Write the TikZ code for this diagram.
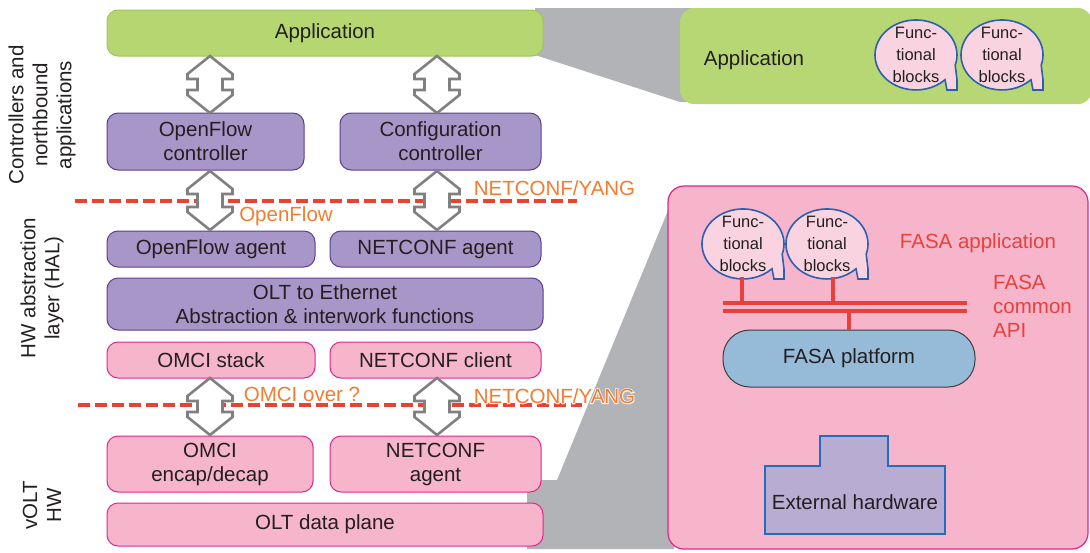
\documentclass[tikz,border=0pt]{standalone}
\usepackage{fontspec}
\setmainfont{Liberation Sans}
\newfontfamily\halofont[FakeBold=8]{Liberation Sans}
\usetikzlibrary{calc}

\definecolor{txt}{HTML}{231F20}
\definecolor{appgreen}{HTML}{B6D672}
\definecolor{appline}{HTML}{9DC85A}
\definecolor{rgreen}{HTML}{B7D775}
\definecolor{purpf}{HTML}{A797C8}
\definecolor{purpl}{HTML}{5C3D92}
\definecolor{pinkf}{HTML}{F6B5CB}
\definecolor{pinkl}{HTML}{E2258C}
\definecolor{grayf}{HTML}{B2B3B6}
\definecolor{arrgray}{HTML}{808080}
\definecolor{dashred}{HTML}{EC4130}
\definecolor{orangeT}{HTML}{F47B30}
\definecolor{fasared}{HTML}{E8413B}
\definecolor{bubf}{HTML}{F9D4E0}
\definecolor{bubl}{HTML}{2C5FAE}
\definecolor{platf}{HTML}{96BBD8}
\definecolor{platl}{HTML}{3D3D3D}
\definecolor{hwf}{HTML}{B8ACD2}
\definecolor{hwl}{HTML}{1F6FC0}

\newcommand\mainfs{\fontsize{20.5}{24}\selectfont}
\newcommand\bubfs{\fontsize{16.5}{22}\selectfont}

% hollow double-headed arrow between two points (top, bottom)
\newcommand\dblarrow[2]{%
  \draw[harrow] let \p1=(#1), \p2=(#2) in
    (\x1,\y1) -- (\x1+22.5pt,\y1-18pt) -- (\x1+22.5pt,\y1-23pt) -- (\x1+12.5pt,\y1-23pt)
    -- (\x1+12.5pt,\y2+23pt) -- (\x1+22.5pt,\y2+23pt) -- (\x1+22.5pt,\y2+18pt) -- (\x2,\y2)
    -- (\x1-22.5pt,\y2+18pt) -- (\x1-22.5pt,\y2+23pt) -- (\x1-12.5pt,\y2+23pt)
    -- (\x1-12.5pt,\y1-23pt) -- (\x1-22.5pt,\y1-23pt) -- (\x1-22.5pt,\y1-18pt) -- cycle;}

\tikzset{
  box/.style={rounded corners=11pt, inner sep=0pt, align=center, font=\mainfs,
    text=txt, line width=1pt},
  gbox/.style={box, fill=appgreen, draw=appline},
  pbox/.style={box, fill=purpf, draw=purpl},
  kbox/.style={box, fill=pinkf, draw=pinkl},
  harrow/.style={draw=arrgray, fill=white, line width=2.6pt, line join=miter},
  sep/.style={dashred, line width=3.2pt, dash pattern=on 12pt off 5pt},
  olabel/.style={text=orangeT, font=\mainfs, inner sep=0pt},
  side/.style={rotate=90, align=center, font=\mainfs, text=txt, inner sep=0pt},
  bubble/.style={fill=bubf, draw=bubl, line width=1.6pt, line join=miter},
  bubtext/.style={align=center, font=\bubfs, text=txt, inner sep=0pt},
  bus/.style={fasared, line width=4pt},
  fbub/.pic={
    \path[bubble] (39.2,10.2) arc[start angle=17, end angle=-315, x radius=41, y radius=35]
      -- (31,35) -- (41,35) -- (41,25) -- cycle;
    \node[bubtext] (-label) at (0,0) {Func-\\tional\\blocks};
  }
}

\begin{document}
\begin{tikzpicture}[x=1pt, y=-1pt]
\useasboundingbox (0,0) rectangle (1090,552);

% zoom-out wedges
\fill[grayf] (535,8) -- (700,8) -- (700,102) -- (680,102) -- (535,55) -- cycle;
\fill[grayf] (527,480) -- (557,480) -- (674,196) -- (674,549) -- (527,549) -- cycle;

% ---------- left stack ----------
\node[gbox, minimum width=436pt, minimum height=46pt] (app) at (325,33) {Application};

\node[pbox, minimum width=197pt, minimum height=57pt] (ofc) at (205.5,141.5) {OpenFlow\\controller};
\node[pbox, minimum width=201pt, minimum height=57pt] (cfc) at (440.5,141.5) {Configuration\\controller};

\node[pbox, minimum width=208pt, minimum height=36pt] (ofa) at (211,249) {OpenFlow agent};
\node[pbox, minimum width=211pt, minimum height=36pt] (nca) at (435.5,249) {NETCONF agent};

\node[pbox, minimum width=436pt, minimum height=52pt] (olt) at (325,304)
  {OLT to Ethernet\\Abstraction \& interwork functions};

\node[kbox, minimum width=208pt, minimum height=36pt] (omci) at (211,360) {OMCI stack};
\node[kbox, minimum width=211pt, minimum height=36pt] (ncc) at (435.5,360) {NETCONF client};

\node[kbox, minimum width=206pt, minimum height=56pt] (enc) at (210,464) {OMCI\\encap/decap};
\node[kbox, minimum width=211pt, minimum height=56pt] (nca2) at (435.5,464) {NETCONF\\agent};

\node[kbox, minimum width=436pt, minimum height=43pt] (dp) at (325,524.5) {OLT data plane};

% layer separators
\coordinate (sepAL) at (75,201);
\coordinate (sepAR) at (577,201);
\coordinate (sepBL) at (78,405);
\coordinate (sepBR) at (582,405);
\draw[sep] (sepAL) -- (sepAR);
\draw[sep] (sepBL) -- (sepBR);

% interface arrows
\coordinate (a1t) at (210,56);  \coordinate (a1b) at (210,113);
\coordinate (a2t) at (437,56);  \coordinate (a2b) at (437,113);
\coordinate (a3t) at (210,171); \coordinate (a3b) at (210,230);
\coordinate (a4t) at (437,171); \coordinate (a4b) at (437,230);
\coordinate (a5t) at (210,378); \coordinate (a5b) at (210,435);
\coordinate (a6t) at (437,378); \coordinate (a6b) at (437,435);
\dblarrow{a1t}{a1b}
\dblarrow{a2t}{a2b}
\dblarrow{a3t}{a3b}
\dblarrow{a4t}{a4b}
\dblarrow{a5t}{a5b}
\dblarrow{a6t}{a6b}

% protocol labels
\node[olabel] (nyA) at (554.5,188) {NETCONF/YANG};
\node[olabel] (ofl) at (286,216) {OpenFlow};
\node[olabel] (omo) at (302,394) {OMCI over ?};
% white outline behind the lower label, where it crosses the grey wedge
\node[olabel, text=white, font=\mainfs\halofont] (halo) at (554.5,396) {NETCONF/YANG};
\node[olabel] (nyB) at (554.5,396) {NETCONF/YANG};

% layer names
\node[side] (lyr1) at (42,115) {Controllers and\\northbound\\applications};
\node[side] (lyr2) at (42,288) {HW abstraction\\layer (HAL)};
\node[side] (lyr3) at (42,505) {vOLT\\HW};

% ---------- application detail ----------
\node[fill=rgreen, rounded corners=14pt, minimum width=412pt, minimum height=96pt, inner sep=0pt]
  (appz) at (886,56) {};
\node[font=\mainfs, text=txt, inner sep=0pt] (appzt) at (754,60) {Application};
\pic (b1) at (916,55) {fbub};
\pic (b2) at (1002,55) {fbub};

% ---------- FASA detail ----------
\node[fill=pinkf, draw=pinkl, line width=1.2pt, rounded corners=16pt,
  minimum width=420pt, minimum height=363pt, inner sep=0pt] (fasa) at (878,367.5) {};
\pic (b3) at (743,244) {fbub};
\pic (b4) at (827,244) {fbub};

\node[font=\mainfs, text=fasared, inner sep=0pt] (fapp) at (978,243) {FASA application};
\node[font=\mainfs, text=fasared, inner sep=0pt, align=left, anchor=west] (fapi) at (993,306)
  {FASA\\common\\API};

\node[fill=platf, draw=platl, line width=1pt, rounded corners=27pt,
  minimum width=252pt, minimum height=57pt, inner sep=0pt, font=\mainfs, text=txt]
  (plat) at (849,358.5) {FASA platform};

\coordinate (busL1) at (723,303); \coordinate (busR1) at (967,303);
\coordinate (busL2) at (723,311); \coordinate (busR2) at (967,311);
\coordinate (st1) at (742,277); \coordinate (st2) at (833,277);
\coordinate (st3) at (849,311); \coordinate (st4) at (849,330);
\draw[bus] (busL1) -- (busR1);
\draw[bus] (busL2) -- (busR2);
\draw[bus] (st1) -- (st1 |- busL1);
\draw[bus] (st2) -- (st2 |- busL1);
\draw[bus] (st3) -- (st4);

% external hardware block
\draw[fill=hwf, draw=hwl, line width=1.8pt, line join=miter]
  (765,466) -- (820,466) -- (820,436) -- (888,436) -- (888,466) -- (945,466)
  -- (945,534) -- (765,534) -- cycle;
\node[font=\mainfs, text=txt, inner sep=0pt] (exthw) at (855,502) {External hardware};

\end{tikzpicture}
\end{document}
